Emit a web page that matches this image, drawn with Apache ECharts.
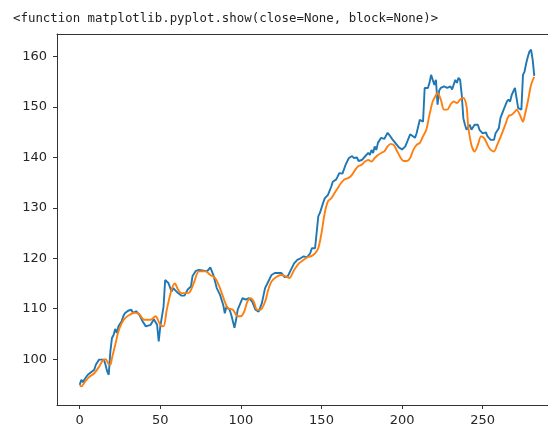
<!DOCTYPE html>
<html>
<head>
<meta charset="utf-8">
<script src="https://cdn.jsdelivr.net/npm/echarts@6/dist/echarts.min.js"></script>
<style>
html,body{margin:0;padding:0;background:#fff;}
#chart{width:548px;height:431px;}
</style>
</head>
<body>
<div id="chart"></div>
<script>
const titleText = "<function matplotlib.pyplot.show(close=None, block=None)>";
const xTicks = [0, 50, 100, 150, 200, 250];
const yTicks = [100, 110, 120, 130, 140, 150, 160];

const blueIdx = [0,1,2,3,4,5,7,9,10,12,13,15,16,17,18,19,20,21,22,23,24,26,27,28,30,32,33,35,37,39,41,42,44,46,47,48,49,50,52,53,55,57,58,61,63,65,67,69,70,72,74,76,79,81,82,83,85,87,89,90,91,93,94,95,96,97,98,99,101,103,105,107,109,111,113,115,117,119,121,123,125,127,129,131,133,135,137,139,141,143,144,146,147,148,149,150,151,152,154,155,156,157,159,160,161,162,163,165,167,169,170,172,173,175,177,179,180,181,182,183,184,185,187,189,191,192,194,196,198,200,201,202,204,205,206,208,209,211,212,213,214,215,216,217,218,219,220,221,222,223,224,226,228,230,231,232,233,234,235,236,237,238,239,240,242,243,245,246,247,248,249,250,252,253,255,257,258,260,261,263,265,266,267,268,269,270,271,272,273,274,275,276,277,278,279,280,281,282];
const blueVal = [94.9,95.9,95.4,96.0,96.3,96.9,97.4,97.9,98.9,99.9,100.1,99.9,98.9,97.6,96.9,101.5,104.2,104.8,106.0,105.2,106.5,107.5,108.5,109.1,109.6,109.8,109.2,109.5,108.8,107.5,106.5,106.2,106.8,107.9,108.1,106.8,103.5,106.5,110.4,115.7,115.1,113.4,114.1,113.1,112.6,112.6,113.8,114.4,116.5,117.5,117.7,117.6,117.4,118.2,118.4,116.6,114.1,112.8,110.8,109.1,110.4,109.8,108.8,107.5,106.2,107.8,109.8,110.1,112.1,111.8,112.1,111.4,109.8,109.4,111.1,114.1,115.4,116.7,117.1,117.1,117.1,116.3,116.4,117.7,119.0,119.7,120.0,120.4,120.2,121.0,122.0,122.0,121.7,128.3,129.0,129.3,131.0,131.9,132.6,132.9,134.2,135.2,135.6,136.2,136.9,137.2,136.8,138.6,139.9,140.3,139.9,140.0,139.3,139.5,140.2,140.9,140.5,141.5,140.9,142.2,141.5,142.9,143.9,143.7,144.9,144.5,143.6,142.8,142.0,141.6,141.3,142.2,143.8,144.6,144.7,143.9,144.8,147.5,147.8,147.1,153.8,154.1,153.8,154.8,156.4,156.1,154.4,155.4,150.5,153.3,153.8,154.1,153.8,154.1,153.5,153.8,155.4,154.8,155.8,155.4,152.4,147.8,146.5,145.5,146.5,145.5,146.5,146.2,146.5,145.5,145.8,144.8,145.0,144.2,143.5,143.5,144.8,145.8,147.8,149.5,151.1,151.5,151.1,152.4,153.1,153.8,151.8,149.8,149.5,149.5,156.4,157.1,158.7,160.0,161.0,161.4,159.4,156.2];

const orangeIdx = [0,1,3,6,9,12,14,16,18,19,20,22,24,26,28,31,34,37,40,44,47,50,52,54,57,59,61,63,66,68,71,74,78,81,84,87,90,92,95,98,100,102,104,106,108,110,112,115,117,119,122,125,128,130,133,136,139,141,144,146,148,150,152,154,156,158,160,162,164,167,169,171,173,175,177,179,181,183,185,187,189,191,193,195,197,199,201,203,205,207,209,211,213,215,217,219,221,222,224,226,228,230,232,234,236,238,240,241,243,245,247,249,251,253,255,257,259,262,264,266,268,270,271,273,275,276,278,280,282];
const orangeVal = [94.8,94.6,95.4,96.5,97.2,98.5,99.6,100.0,99.0,98.9,100.2,102.8,105.5,107.1,108.1,108.8,109.2,108.9,107.8,107.8,108.5,106.8,106.5,109.8,113.8,115.0,113.8,113.1,113.1,113.2,115.3,117.4,117.4,116.7,116.1,114.1,111.4,110.1,109.8,108.5,108.5,109.4,111.4,112.1,111.4,109.8,109.8,111.4,113.8,115.4,116.3,116.7,116.4,116.1,117.7,119.0,119.7,120.2,120.5,121.0,122.0,125.0,129.0,131.3,131.9,132.9,133.9,134.9,135.6,136.0,136.6,137.6,138.3,138.6,139.2,139.5,139.2,139.9,140.5,140.9,141.2,142.2,142.7,142.4,141.2,140.0,139.3,139.3,139.9,141.5,142.5,142.9,144.2,145.5,148.5,151.1,152.4,152.8,151.5,149.5,149.5,150.5,151.1,150.8,151.5,151.8,150.1,146.2,142.5,141.2,142.5,144.2,143.8,142.5,141.5,141.2,142.5,144.8,146.5,148.2,148.5,149.1,149.5,148.5,147.1,148.2,151.1,154.4,156.0];

const bluePairs = blueIdx.map((x, i) => [x, blueVal[i]]);
const orangePairs = orangeIdx.map((x, i) => [x, orangeVal[i]]);

const chart = echarts.init(document.getElementById('chart'), null, {renderer: 'canvas'});
chart.setOption({
  animation: false,
  backgroundColor: '#fff',
  title: {
    text: titleText,
    left: 8, top: 8,
    textStyle: {fontFamily: 'DejaVu Sans Mono', fontSize: 12.4, fontWeight: 'normal', color: '#222'}
  },
  grid: {
    left: 57, top: 34, width: 500, height: 371,
    containLabel: false,
    outerBoundsMode: 'none',
    show: false
  },
  xAxis: [{
    type: 'value', min: -14.1, max: 296.1, position: 'bottom',
    splitLine: {show: false},
    axisLine: {show: true, onZero: false, lineStyle: {color: '#333', width: 1}},
    axisTick: {show: true, inside: false, length: 4, lineStyle: {color: '#333'}, customValues: xTicks},
    axisLabel: {show: true, inside: false, margin: 9, customValues: xTicks, color: '#262626',
      fontFamily: 'DejaVu Sans', fontSize: 13, align: 'center', verticalAlign: 'top'}
  }, {
    type: 'value', min: -14.1, max: 296.1, position: 'top',
    splitLine: {show: false},
    axisLine: {show: true, onZero: false, lineStyle: {color: '#333', width: 1}},
    axisTick: {show: false}, axisLabel: {show: false}
  }],
  yAxis: [{
    type: 'value', min: 90.9, max: 164.5, position: 'left',
    splitLine: {show: false},
    axisLine: {show: true, onZero: false, lineStyle: {color: '#333', width: 1}},
    axisTick: {show: true, inside: false, length: 4, lineStyle: {color: '#333'}, customValues: yTicks},
    axisLabel: {show: true, inside: false, margin: 10, customValues: yTicks, color: '#262626',
      fontFamily: 'DejaVu Sans', fontSize: 13, align: 'right', verticalAlign: 'middle'}
  }],
  series: [
    {type: 'line', xAxisIndex: 0, yAxisIndex: 0, data: bluePairs, showSymbol: false, symbol: 'none', smooth: false,
     lineStyle: {color: '#1f77b4', width: 1.9}, itemStyle: {color: '#1f77b4'}},
    {type: 'line', xAxisIndex: 0, yAxisIndex: 0, data: orangePairs, showSymbol: false, symbol: 'none', smooth: 0.3,
     lineStyle: {color: '#ff7f0e', width: 1.9}, itemStyle: {color: '#ff7f0e'}}
  ]
});
</script>
</body>
</html>
